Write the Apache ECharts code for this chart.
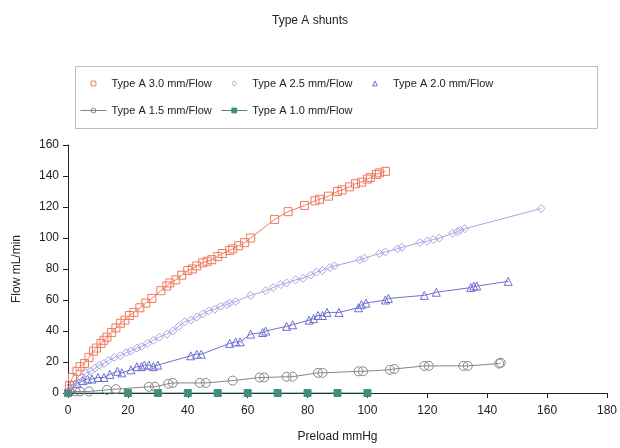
<!DOCTYPE html>
<html>
<head>
<meta charset="utf-8">
<script src="https://cdn.jsdelivr.net/npm/echarts@6/dist/echarts.min.js"></script>
<style>
  html, body { margin: 0; padding: 0; background: #fff; }
  #chart { width: 620px; height: 448px; }
</style>
</head>
<body>
<div id="chart"></div>
<script>
// ---- data: [preload mmHg, flow mL/min]
var seriesNames = ['Type A 3.0 mm/Flow', 'Type A 2.5 mm/Flow', 'Type A 2.0 mm/Flow', 'Type A 1.5 mm/Flow', 'Type A 1.0 mm/Flow'];

var flow30 = [[0.5,5],[1.5,10],[3,14],[4,17],[5.5,19],[7,23],[8.5,27],[9.5,29],[11,32],[12,34],[13,36],[14.5,39],
  [16,42],[17.5,45],[19,47],[20.5,50],[22,52],[24,55],[26,58],[28,61],[31,66],[33,69],[34,71],[36,73],[38,76],
  [40,79],[41.5,80],[43,82],[45,84],[46.5,85],[48,86],[50,88],[51.5,90],[54,92],[55,93],[57,95],[59,97],[61,100],
  [69,112],[73.5,117],[79,121],[82.5,124],[84,125],[87,127],[90,130],[91.5,131],[94,133],[96,135],[98,136],
  [100,138],[101,139],[103,141],[104,142],[106,143]];

var flow25 = [[1,5],[3,7],[4.5,10],[6,13],[7.5,14],[9,16],[10.5,18],[12,19],[13.5,21],[15.5,23],[17.5,24],[19.5,26],
  [21,27],[23,29],[24.5,30],[26.5,32],[28.5,34],[30.5,36],[33,38],[35,40],[37,43],[39,46],[41,47],[43,49],[45,51],
  [47,53],[49,54],[51,56],[53,57],[54,58],[56,59],[61,63],[66,66],[68.5,68],[71,70],[73,71],[76,73],[78.5,74],
  [81,76],[83,78],[85,79],[87.5,81],[89,82],[97.5,86],[99,87],[104,90],[106,91],[110,93],[111.5,94],[117.5,97],
  [120,98],[122,99],[124,100],[128.5,103],[130,104],[131,105],[132.5,106],[158,119]];

var flow20 = [[1,3],[3,6],[5,8],[6.5,9],[8,9],[10,10],[12,10],[14,12],[16.5,14],[18,13],[21,15],[23,17],[24.5,17],
  [25.5,18],[27,18],[28.5,17],[30,18],[41,24],[43,25],[44.5,25],[54,32],[56,33],[57.5,33],[61,38],[65,39],[66,40],
  [73,43],[75,44],[80.5,47],[82,48],[83.5,50],[85,50],[86.5,52],[90.5,52],[97,55],[98,57],[99.5,58],[106,60],
  [107,61],[119,63],[123,65],[134.5,68],[135.5,69],[136.5,69],[147,72]];

var flow15 = [[0.5,0.5],[2.5,1],[4,1],[7,1],[13,2],[16,2.5],[27,4],[29,4],[33.5,6],[35,6.5],[44,6.5],[46,6.5],
  [55,8],[64,10],[65.5,10],[73,10.5],[75,10.5],[83.5,13],[85,13],[97,14],[98.5,14],[107.5,15],[109,15.5],
  [119,17.5],[120.5,17.5],[132,17.5],[133.5,17.5],[144,19],[144.5,19.5]];

var flow10 = [[0,0],[20,0],[30,0],[40,0],[50,0],[60,0],[70,0],[80,0],[90,0],[100,0]];

var colors = ['#f07a5e', '#a9a2e2', '#6f6fd2', '#858585', '#3f8f80'];
var symbols = ['rect', 'diamond', 'triangle', 'circle', 'rect'];
var sizes = [8, 8, 8, 9, 7];
var allData = [flow30, flow25, flow20, flow15, flow10];

var font = '"Liberation Sans", Arial, sans-serif';

var chart = echarts.init(document.getElementById('chart'));

var series = [];
for (var i = 0; i < allData.length; i++) {
  var filled = i == 4;
  series.push({
    name: seriesNames[i],
    type: 'line',
    data: allData[i],
    symbol: symbols[i],
    symbolSize: sizes[i],
    showAllSymbol: true,
    z: 10 - i,
    lineStyle: { color: colors[i], width: 1 },
    itemStyle: {
      color: filled ? colors[i] : 'rgba(255,255,255,0)',
      borderColor: colors[i],
      borderWidth: 1
    },
    emphasis: { disabled: true }
  });
}

var legendText = { fontFamily: font, fontSize: 11, color: '#222' };

option = {
  animation: false,
  textStyle: { fontFamily: font },
  title: {
    text: 'Type A shunts',
    left: 'center',
    top: 10,
    textStyle: { fontFamily: font, fontSize: 12, fontWeight: 'normal', color: '#222' }
  },
  graphic: [{
    type: 'rect',
    shape: { x: 75.5, y: 66.5, width: 522, height: 62 },
    style: { fill: 'none', stroke: '#bdbdbd', lineWidth: 1 }
  }],
  legend: [{
    left: 80,
    top: 78,
    padding: 0,
    itemWidth: 26,
    itemHeight: 6,
    itemGap: 9,
    itemStyle: { borderWidth: 1 },
    lineStyle: { width: 1 },
    textStyle: legendText,
    data: [
      { name: seriesNames[0], lineStyle: { opacity: 0 } },
      { name: seriesNames[1], lineStyle: { opacity: 0 } },
      { name: seriesNames[2], lineStyle: { opacity: 0 } }
    ]
  }, {
    left: 80,
    top: 105,
    padding: 0,
    itemWidth: 26,
    itemHeight: 6,
    itemGap: 9,
    itemStyle: { borderWidth: 1 },
    lineStyle: { width: 1 },
    textStyle: legendText,
    data: [seriesNames[3], seriesNames[4]]
  }],
  grid: { left: 68, right: 13, top: 145, bottom: 55 },
  xAxis: {
    type: 'value',
    min: 0,
    max: 180,
    interval: 20,
    name: 'Preload mmHg',
    nameLocation: 'middle',
    nameGap: 38,
    nameTextStyle: { fontFamily: font, fontSize: 12, color: '#222' },
    axisLine: { show: true, lineStyle: { color: '#222', width: 1 } },
    axisTick: { show: true, length: 5, lineStyle: { color: '#222' } },
    axisLabel: { fontFamily: font, fontSize: 12, color: '#222', margin: 12 },
    splitLine: { show: false }
  },
  yAxis: {
    type: 'value',
    min: 0,
    max: 160,
    interval: 20,
    name: 'Flow mL/min',
    nameLocation: 'middle',
    nameGap: 45,
    nameTextStyle: { fontFamily: font, fontSize: 12, color: '#222' },
    axisLine: { show: true, lineStyle: { color: '#222', width: 1 } },
    axisTick: { show: true, length: 5, lineStyle: { color: '#222' } },
    axisLabel: { fontFamily: font, fontSize: 12, color: '#222', margin: 9 },
    splitLine: { show: false }
  },
  series: series
};

chart.setOption(option);
</script>
</body>
</html>
